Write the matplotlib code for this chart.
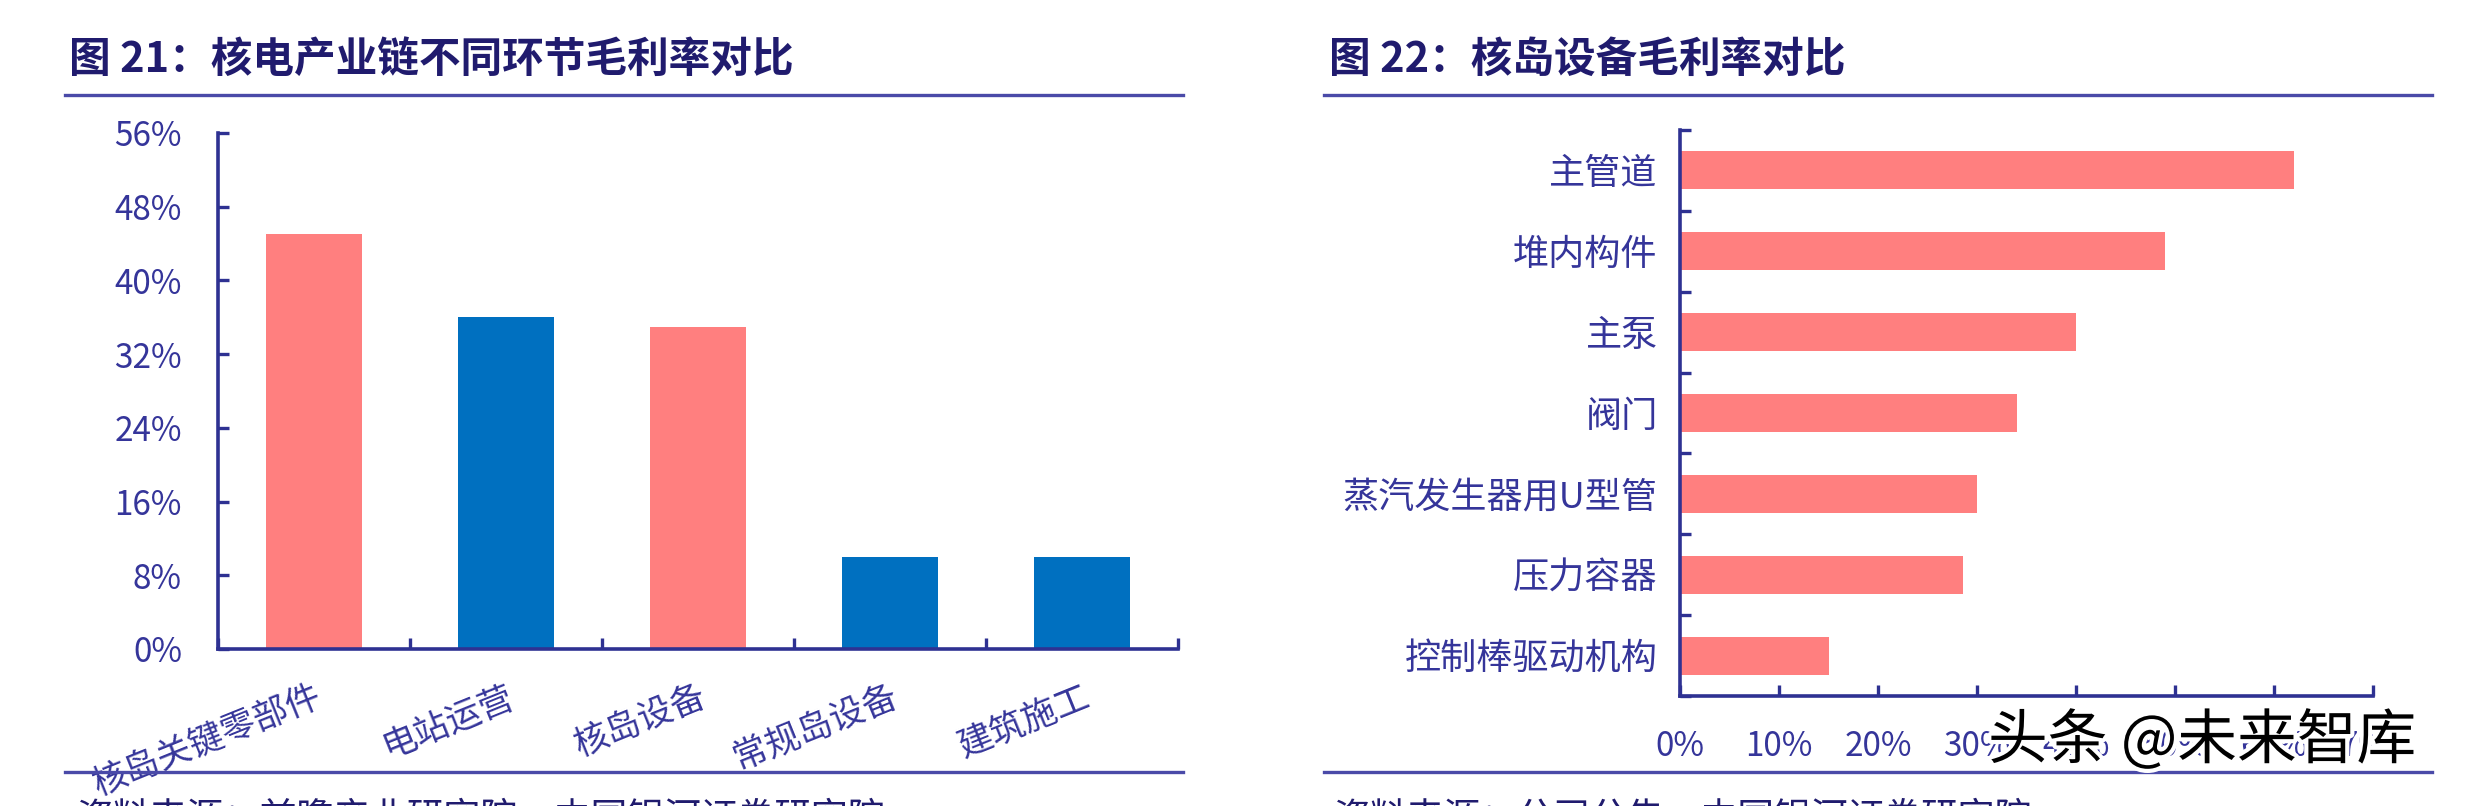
import numpy as np
import matplotlib
matplotlib.use('Agg')
import matplotlib.pyplot as plt
from matplotlib.lines import Line2D
from matplotlib.ticker import FuncFormatter
import matplotlib.patheffects as pe

plt.rcParams['font.family'] = ['Noto Sans CJK SC', 'DejaVu Sans']

# 图21 数据
chain_names = ['核岛关键零部件', '电站运营', '核岛设备', '常规岛设备', '建筑施工']
chain_margin = [45, 36, 35, 10, 10]
chain_colors = ['#FF7F7F', '#0070C0', '#FF7F7F', '#0070C0', '#0070C0']

# 图22 数据
equip_names = ['主管道', '堆内构件', '主泵', '阀门', '蒸汽发生器用U型管', '压力容器', '控制棒驱动机构']
equip_margin = [62, 49, 40, 34, 30, 28.6, 15]

title_c = '#201B6E'
tick_c = '#35359A'
axis_c = '#2E3192'
line_c = '#4A4AA8'

W, H = 2470, 806
fig = plt.figure(figsize=(W / 100, H / 100), dpi=100)

def fx(px):
    return px / W

def fy(py):
    return 1 - py / H

def style_axes(ax):
    for s in ['top', 'right']:
        ax.spines[s].set_visible(False)
    for s in ['left', 'bottom']:
        ax.spines[s].set_color(axis_c)
        ax.spines[s].set_linewidth(2.6)
    ax.tick_params(which='major', direction='in', length=8, width=2.4, color=axis_c)

pct = FuncFormatter(lambda v, p: '%d%%' % v)

# ---- 左图 ----
ax1 = fig.add_axes([fx(218), fy(649), fx(1178 - 218), (649 - 133) / H])
x = np.arange(len(chain_names))
ax1.bar(x, chain_margin, width=0.5, color=chain_colors, zorder=1)
ax1.set_xlim(-0.5, len(chain_names) - 0.5)
ax1.set_ylim(0, 56)
ax1.set_yticks(np.arange(0, 57, 8))
ax1.yaxis.set_major_formatter(pct)
ax1.set_xticks(np.arange(-0.5, len(chain_names), 1.0))
ax1.set_xticklabels([])
ax1.set_xticks(x, minor=True)
ax1.set_xticklabels(chain_names, minor=True, rotation=22, ha='right',
                    rotation_mode='anchor', fontsize=25, color=tick_c)
style_axes(ax1)
ax1.tick_params(axis='x', which='minor', length=0, pad=22)
ax1.tick_params(axis='y', labelsize=24, labelcolor=tick_c, pad=26)

# ---- 右图 ----
ax2 = fig.add_axes([fx(1680), fy(696), fx(2373 - 1680), (696 - 130) / H])
y = np.arange(len(equip_names))
ax2.barh(y, equip_margin, height=0.47, color='#FF7F7F', zorder=1)
ax2.set_ylim(len(equip_names) - 0.5, -0.5)
ax2.set_xlim(0, 70)
ax2.set_xticks(np.arange(0, 71, 10))
ax2.xaxis.set_major_formatter(pct)
ax2.set_yticks(np.arange(-0.5, len(equip_names), 1.0))
ax2.set_yticklabels([])
ax2.set_yticks(y, minor=True)
ax2.set_yticklabels(equip_names, minor=True, fontsize=26, color=tick_c)
style_axes(ax2)
ax2.tick_params(axis='y', which='minor', length=0, pad=16)
ax2.tick_params(axis='x', labelsize=24, labelcolor=tick_c, pad=24)

# ---- 标题、分隔线、来源 ----
fig.text(fx(69), fy(60), '图 21：核电产业链不同环节毛利率对比', fontsize=30,
         fontweight='bold', color=title_c, va='center', ha='left')
fig.text(fx(1329), fy(60), '图 22：核岛设备毛利率对比', fontsize=30,
         fontweight='bold', color=title_c, va='center', ha='left')

for x0, x1 in [(65, 1183), (1324, 2432)]:
    for yy in [95, 772]:
        fig.add_artist(Line2D([fx(x0), fx(x1)], [fy(yy), fy(yy)], color=line_c, lw=2.4))

fig.text(fx(76), fy(798), '资料来源：前瞻产业研究院，中国银河证券研究院', fontsize=26.5,
         color=title_c, va='top', ha='left')
fig.text(fx(1333), fy(798), '资料来源：公司公告，中国银河证券研究院', fontsize=26.5,
         color=title_c, va='top', ha='left')

# 水印
fig.text(fx(1988), fy(742), '头条 @未来智库', fontsize=43, color='black',
         va='center', ha='left',
         path_effects=[pe.withStroke(linewidth=6, foreground='white')])

fig.savefig('out.png', dpi=100)
